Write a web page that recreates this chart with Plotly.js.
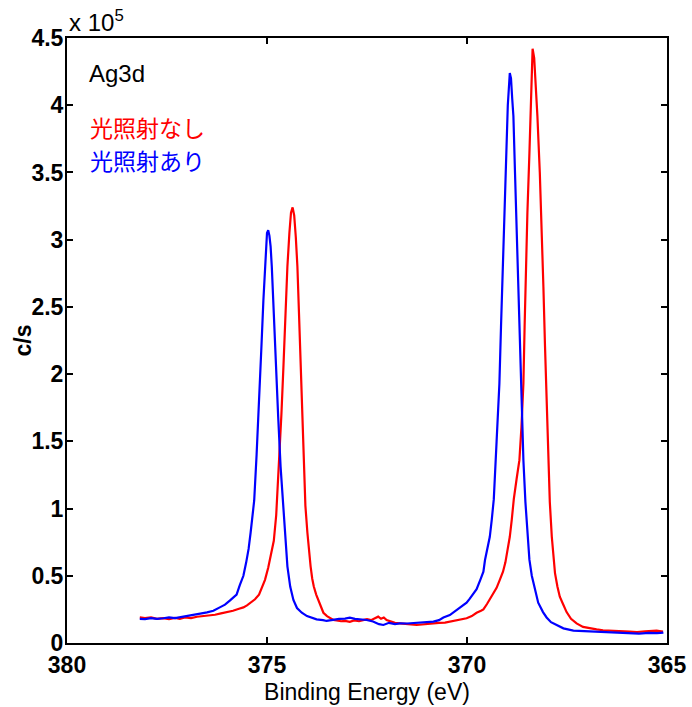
<!DOCTYPE html>
<html>
<head>
<meta charset="utf-8">
<script src="https://cdn.plot.ly/plotly-3.0.1.min.js"></script>
<style>body{margin:0;background:#fff}#chart{width:692px;height:707px}</style>
</head>
<body>
<div id="chart"></div>
<script>
// Binding energy (eV) and counts (in units of 1e5 c/s)
const energyRed = [378.18,378.05,377.9,377.75,377.6,377.45,377.3,377.18,377.05,376.9,376.75,376.6,376.43,376.3,376.15,376.01,375.85,375.7,375.59,375.5,375.4,375.3,375.2,375.13,375.05,374.97,374.9,374.83,374.77,374.7,374.64,374.59,374.54,374.49,374.44,374.4,374.36,374.32,374.28,374.24,374.2,374.16,374.12,374.08,374.04,373.99,373.95,373.91,373.87,373.83,373.77,373.72,373.65,373.59,373.5,373.42,373.34,373.26,373.15,373.05,372.93,372.82,372.7,372.6,372.5,372.4,372.3,372.22,372.15,372.08,372.01,371.9,371.8,371.68,371.55,371.4,371.26,371.1,370.95,370.84,370.7,370.55,370.43,370.3,370.15,370.01,369.88,369.76,369.65,369.59,369.5,369.42,369.34,369.26,369.18,369.1,369.04,368.98,368.93,368.88,368.83,368.76,368.69,368.64,368.59,368.56,368.53,368.49,368.44,368.4,368.36,368.32,368.28,368.24,368.18,368.13,368.09,368.05,368.01,367.97,367.93,367.88,367.84,367.8,367.74,367.68,367.6,367.51,367.4,367.26,367.1,366.95,366.76,366.6,366.4,366.2,365.93,365.75,365.55,365.4,365.26,365.1];
const countsRed = [0.19,0.185,0.19,0.18,0.185,0.178,0.186,0.18,0.19,0.185,0.195,0.2,0.205,0.21,0.22,0.228,0.24,0.255,0.265,0.28,0.3,0.325,0.36,0.41,0.47,0.56,0.65,0.76,0.95,1.31,1.7,2.05,2.45,2.8,3.05,3.2,3.24,3.18,3.02,2.8,2.45,2.05,1.68,1.31,1.02,0.82,0.68,0.57,0.48,0.42,0.36,0.32,0.27,0.225,0.2,0.185,0.172,0.168,0.162,0.165,0.158,0.168,0.162,0.17,0.178,0.17,0.185,0.196,0.18,0.19,0.17,0.16,0.15,0.146,0.14,0.138,0.134,0.14,0.142,0.146,0.15,0.152,0.159,0.168,0.176,0.184,0.2,0.225,0.24,0.25,0.29,0.33,0.36,0.41,0.47,0.53,0.6,0.7,0.79,0.92,1.07,1.22,1.36,1.6,1.93,2.35,2.78,3.2,3.64,4.1,4.42,4.35,4.15,3.92,3.5,3.07,2.65,2.21,1.78,1.36,1.05,0.79,0.63,0.52,0.42,0.344,0.29,0.23,0.18,0.146,0.12,0.11,0.102,0.095,0.09,0.088,0.084,0.082,0.086,0.09,0.092,0.085];

const energyBlue = [378.18,378.05,377.9,377.75,377.59,377.45,377.3,377.15,377.0,376.88,376.76,376.6,376.5,376.34,376.18,376.05,375.93,375.82,375.76,375.68,375.59,375.52,375.46,375.41,375.36,375.32,375.26,375.19,375.14,375.09,375.04,375.0,374.97,374.94,374.91,374.88,374.83,374.78,374.72,374.66,374.6,374.55,374.49,374.42,374.34,374.25,374.13,374.0,373.85,373.76,373.6,373.51,373.35,373.2,373.05,372.93,372.8,372.65,372.51,372.35,372.2,372.09,371.95,371.8,371.68,371.5,371.26,371.05,370.84,370.7,370.59,370.43,370.26,370.1,370.01,369.93,369.85,369.76,369.66,369.59,369.55,369.49,369.43,369.38,369.33,369.26,369.19,369.15,369.11,369.07,369.03,368.98,368.93,368.9,368.87,368.84,368.8,368.76,368.72,368.68,368.64,368.59,368.54,368.49,368.44,368.38,368.3,368.22,368.1,368.01,367.9,367.76,367.59,367.34,367.18,366.95,366.76,366.5,366.2,365.93,365.7,365.45,365.25,365.09];
const countsBlue = [0.18,0.178,0.185,0.18,0.184,0.19,0.185,0.192,0.2,0.205,0.213,0.222,0.228,0.24,0.265,0.285,0.315,0.34,0.36,0.43,0.5,0.6,0.7,0.82,0.95,1.06,1.4,1.81,2.2,2.55,2.85,3.05,3.07,3.03,2.95,2.8,2.45,2.05,1.68,1.31,1.03,0.82,0.57,0.42,0.32,0.26,0.225,0.2,0.185,0.176,0.17,0.164,0.172,0.18,0.182,0.188,0.18,0.175,0.171,0.16,0.14,0.134,0.15,0.14,0.146,0.145,0.151,0.155,0.159,0.17,0.19,0.208,0.246,0.28,0.3,0.33,0.36,0.4,0.475,0.53,0.617,0.7,0.79,0.92,1.07,1.5,1.93,2.35,2.78,3.2,3.64,4.0,4.24,4.2,4.05,3.92,3.5,3.07,2.65,2.21,1.78,1.36,1.05,0.79,0.62,0.5,0.39,0.3,0.23,0.19,0.155,0.132,0.109,0.092,0.09,0.086,0.084,0.078,0.075,0.072,0.07,0.076,0.073,0.077];

const xTicks = [380, 375, 370, 365];
const yTicks = [0, 0.5, 1, 1.5, 2, 2.5, 3, 3.5, 4, 4.5];
const yTickText = ['0', '0.5', '1', '1.5', '2', '2.5', '3', '3.5', '4', '4.5'];

const FONT = 'Liberation Sans, Arial, sans-serif';
const tickFont = {family: FONT, size: 23, color: '#000', weight: 'bold'};

const traces = [
  {x: energyRed, y: countsRed, type: 'scatter', mode: 'lines', name: '光照射なし',
   line: {color: '#ff0000', width: 2.2}},
  {x: energyBlue, y: countsBlue, type: 'scatter', mode: 'lines', name: '光照射あり',
   line: {color: '#0000ff', width: 2.2}}
];

const layout = {
  width: 692, height: 707,
  margin: {l: 67, r: 25, t: 38, b: 64},
  paper_bgcolor: '#fff', plot_bgcolor: '#fff',
  showlegend: false,
  xaxis: {
    range: [380, 365], tickvals: xTicks, ticktext: xTicks.map(String),
    ticks: 'inside', ticklen: 6, tickwidth: 2, tickcolor: '#000',
    showline: true, linecolor: '#000', linewidth: 2, mirror: 'ticks',
    showgrid: false, zeroline: false, tickfont: tickFont,
    title: {text: 'Binding Energy (eV)', standoff: 7,
            font: {family: FONT, size: 23, color: '#000'}}
  },
  yaxis: {
    range: [0, 4.5], tickvals: yTicks, ticktext: yTickText,
    ticks: 'inside', ticklen: 6, tickwidth: 2, tickcolor: '#000',
    showline: true, linecolor: '#000', linewidth: 2, mirror: 'ticks',
    showgrid: false, zeroline: false, tickfont: tickFont,
    ticklabelstandoff: -3
  },
  annotations: [
    {xref: 'paper', yref: 'paper', x: -0.075, y: 0.5, xanchor: 'center', yanchor: 'middle',
     text: 'c/s', textangle: -90, showarrow: false,
     font: {family: FONT, size: 23, color: '#000', weight: 'bold'}},
    {xref: 'paper', yref: 'paper', x: 0, y: 1, xanchor: 'left', yanchor: 'bottom', yshift: 0,
     text: 'x 10<sup>5</sup>', showarrow: false,
     font: {family: FONT, size: 24, color: '#000'}},
    {xref: 'paper', yref: 'paper', x: 0.033, y: 0.942, xanchor: 'left', yanchor: 'middle',
     text: 'Ag3d', showarrow: false,
     font: {family: FONT, size: 24, color: '#000'}},
    {xref: 'paper', yref: 'paper', x: 0.035, y: 0.853, xanchor: 'left', yanchor: 'middle',
     text: '光照射なし', showarrow: false,
     font: {family: 'Noto Sans CJK JP, sans-serif', size: 23, color: '#ff0000'}},
    {xref: 'paper', yref: 'paper', x: 0.035, y: 0.798, xanchor: 'left', yanchor: 'middle',
     text: '光照射あり', showarrow: false,
     font: {family: 'Noto Sans CJK JP, sans-serif', size: 23, color: '#0000ff'}}
  ]
};

Plotly.newPlot('chart', traces, layout, {displayModeBar: false, staticPlot: true});
</script>
</body>
</html>
